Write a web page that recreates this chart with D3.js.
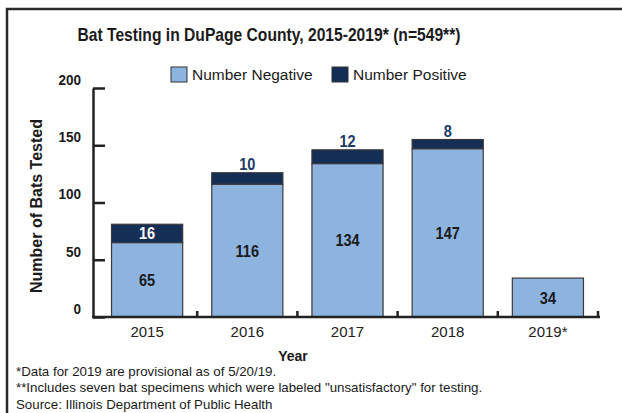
<!DOCTYPE html>
<html>
<head>
<meta charset="utf-8">
<script src="https://cdn.jsdelivr.net/npm/d3@7"></script>
<style>
  body { margin: 0; background: #fff; }
  text { font-family: "Liberation Sans", Arial, sans-serif; }
</style>
</head>
<body>
<div id="chart"></div>
<script>
var years = ["2015", "2016", "2017", "2018", "2019*"];
var negative = [65, 116, 134, 147, 34];
var positive = [16, 10, 12, 8, 0];
var yTicks = [0, 50, 100, 150, 200];
var seriesNames = ["Number Negative", "Number Positive"];
var footnotes = [
    "*Data for 2019 are provisional as of 5/20/19.",
    "**Includes seven bat specimens which were labeled \"unsatisfactory\" for testing.",
    "Source: Illinois Department of Public Health"
];

var svgWidth = 622;
var svgHeight = 413;
var negColor = "#8db3df";
var posColor = "#142e56";

var svg = d3.select("#chart")
    .append("svg")
    .attr("width", svgWidth)
    .attr("height", svgHeight);

// squeeze bold text a bit, the original uses a condensed face
function condense(sel, f) {
    sel.each(function() {
        var len = this.getComputedTextLength();
        d3.select(this).attr("textLength", len * f).attr("lengthAdjust", "spacingAndGlyphs");
    });
}

// frame
svg.append("path")
    .attr("d", "M7," + svgHeight + "V9H" + svgWidth)
    .attr("fill", "none")
    .attr("stroke", "#2b2b2b")
    .attr("stroke-width", 2.5);

var title = svg.append("text")
    .attr("x", 269)
    .attr("y", 41)
    .attr("text-anchor", "middle")
    .style("font-weight", "bold")
    .style("font-size", "18.5px")
    .style("fill", "#1a1a1a")
    .text("Bat Testing in DuPage County, 2015-2019* (n=549**)");
condense(title, 0.845);

// legend
var legendX = [171, 332];
var legend = svg.selectAll(".legend")
    .data(seriesNames)
    .enter()
    .append("g")
    .attr("transform", (d, i) => `translate(${legendX[i]},67)`);
legend.append("rect")
    .attr("width", 16)
    .attr("height", 15)
    .attr("fill", (d, i) => i == 0 ? negColor : posColor)
    .attr("stroke", "#333")
    .attr("stroke-width", 1);
legend.append("text")
    .attr("x", 21)
    .attr("y", 13)
    .style("font-size", "15.5px")
    .style("fill", "#1a1a1a")
    .text(d => d);

var yScale = d3.scaleLinear()
    .domain([0, 200])
    .range([317, 88]);

var xScale = d3.scaleBand()
    .domain(years)
    .range([97, 598])
    .paddingInner(0.29)
    .paddingOuter(0.145);

var leftAxis = d3.axisLeft(yScale)
    .tickValues(yTicks)
    .tickSizeInner(-12)
    .tickSizeOuter(0)
    .tickPadding(12);

var yAxis = svg.append("g")
    .attr("transform", "translate(93,0)")
    .call(leftAxis);
yAxis.select(".domain").attr("stroke", "#222").attr("stroke-width", 2.5);
yAxis.selectAll(".tick line").attr("stroke", "#222").attr("stroke-width", 2.5);
yAxis.selectAll(".tick text")
    .attr("dy", "-0.24em")
    .style("font-family", "'Liberation Sans', Arial, sans-serif")
    .style("font-size", "15px")
    .style("font-weight", "bold")
    .style("fill", "#1a1a1a");
condense(yAxis.selectAll(".tick text"), 0.9);

var bottomAxis = d3.axisBottom(xScale)
    .tickSize(0)
    .tickPadding(9.5);
var xAxis = svg.append("g")
    .attr("transform", "translate(0,317)")
    .call(bottomAxis);
xAxis.select(".domain").remove();
xAxis.selectAll(".tick text")
    .style("font-family", "'Liberation Sans', Arial, sans-serif")
    .style("font-size", "15px")
    .style("fill", "#222");

// bars
var rows = years.map((y, i) => ({year: y, neg: negative[i], pos: positive[i]}));

svg.selectAll(".neg")
    .data(rows)
    .enter()
    .append("rect")
    .attr("x", d => xScale(d.year))
    .attr("y", d => yScale(d.neg))
    .attr("width", xScale.bandwidth())
    .attr("height", d => yScale(0) - yScale(d.neg))
    .attr("fill", negColor)
    .attr("stroke", "#3a3a3a")
    .attr("stroke-width", 1.2);

svg.selectAll(".pos")
    .data(rows.filter(d => d.pos > 0))
    .enter()
    .append("rect")
    .attr("x", d => xScale(d.year))
    .attr("y", d => yScale(d.neg + d.pos))
    .attr("width", xScale.bandwidth())
    .attr("height", d => yScale(d.neg) - yScale(d.neg + d.pos))
    .attr("fill", posColor)
    .attr("stroke", "#3a3a3a")
    .attr("stroke-width", 1.2);

// x axis line + boundary ticks
svg.append("line")
    .attr("x1", 92).attr("x2", 600)
    .attr("y1", 317).attr("y2", 317)
    .attr("stroke", "#222")
    .attr("stroke-width", 2.5);
svg.selectAll(".xtick")
    .data(years)
    .enter()
    .append("line")
    .attr("x1", (d, i) => xScale.range()[0] + (i + 1) * xScale.step())
    .attr("x2", (d, i) => xScale.range()[0] + (i + 1) * xScale.step())
    .attr("y1", 317).attr("y2", 311)
    .attr("stroke", "#222")
    .attr("stroke-width", 2.5);

// value labels
var negLabels = svg.selectAll(".negLabel")
    .data(rows)
    .enter()
    .append("text")
    .attr("x", d => xScale(d.year) + xScale.bandwidth() / 2)
    .attr("y", d => (yScale(0) + yScale(d.neg)) / 2 + 6)
    .attr("text-anchor", "middle")
    .style("font-size", "16.5px")
    .style("font-weight", "bold")
    .style("fill", "#1a1a1a")
    .text(d => d.neg);
condense(negLabels, 0.88);

var posLabels = svg.selectAll(".posLabel")
    .data(rows.filter(d => d.pos > 0))
    .enter()
    .append("text")
    .attr("x", d => xScale(d.year) + xScale.bandwidth() / 2)
    .attr("y", function(d) {
        var h = yScale(d.neg) - yScale(d.neg + d.pos);
        if (h >= 16) return (yScale(d.neg) + yScale(d.neg + d.pos)) / 2 + 6;
        return yScale(d.neg + d.pos) - 3;
    })
    .attr("text-anchor", "middle")
    .style("font-size", "16.5px")
    .style("font-weight", "bold")
    .style("fill", d => (yScale(d.neg) - yScale(d.neg + d.pos)) >= 16 ? "#fff" : "#1d3a66")
    .text(d => d.pos);
condense(posLabels, 0.88);

// axis titles
svg.append("text")
    .attr("transform", "translate(42,206) rotate(-90)")
    .attr("text-anchor", "middle")
    .style("font-size", "16px")
    .style("font-weight", "bold")
    .style("fill", "#1a1a1a")
    .text("Number of Bats Tested");

svg.append("text")
    .attr("x", 293)
    .attr("y", 361)
    .attr("text-anchor", "middle")
    .style("font-size", "14px")
    .style("font-weight", "bold")
    .style("fill", "#1a1a1a")
    .text("Year");

svg.selectAll(".note")
    .data(footnotes)
    .enter()
    .append("text")
    .attr("x", 16)
    .attr("y", (d, i) => 375.5 + i * 16.5)
    .style("font-size", "13.3px")
    .style("fill", "#1a1a1a")
    .text(d => d);
</script>
</body>
</html>
